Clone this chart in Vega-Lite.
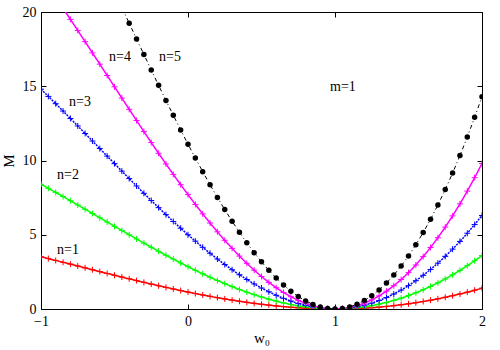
{
"$schema":"https://vega.github.io/schema/vega-lite/v6.json",
"width":441,"height":297,
"autosize":{"type":"none"},
"padding":{"left":41,"top":12,"right":18,"bottom":41},
"background":"white",
"config":{"view":{"stroke":null},"font":"Liberation Serif",
 "axis":{"labelFont":"Liberation Serif","labelFontSize":14,"labelColor":"black","titleFont":"Liberation Serif","titleFontSize":15,"titleFontWeight":"normal","titleColor":"black","domainColor":"black","tickColor":"black","grid":false,"tickSize":-5,"labelPadding":10}},
"data":{"values":[
{"w":-1,"n":1,"M":3.52},{"w":-1,"n":2,"M":8.4},{"w":-1,"n":3,"M":14.8},{"w":-1,"n":4,"M":22.4},{"w":-1,"n":5,"M":31.6},
{"w":-0.95,"n":1,"M":3.396},{"w":-0.95,"n":2,"M":8.128},{"w":-0.95,"n":3,"M":14.316},{"w":-0.95,"n":4,"M":21.693},{"w":-0.95,"n":5,"M":30.648},
{"w":-0.9,"n":1,"M":3.271},{"w":-0.9,"n":2,"M":7.852},{"w":-0.9,"n":3,"M":13.826},{"w":-0.9,"n":4,"M":20.974},{"w":-0.9,"n":5,"M":29.674},
{"w":-0.85,"n":1,"M":3.145},{"w":-0.85,"n":2,"M":7.572},{"w":-0.85,"n":3,"M":13.331},{"w":-0.85,"n":4,"M":20.244},{"w":-0.85,"n":5,"M":28.681},
{"w":-0.8,"n":1,"M":3.02},{"w":-0.8,"n":2,"M":7.29},{"w":-0.8,"n":3,"M":12.83},{"w":-0.8,"n":4,"M":19.505},{"w":-0.8,"n":5,"M":27.67},
{"w":-0.75,"n":1,"M":2.894},{"w":-0.75,"n":2,"M":7.005},{"w":-0.75,"n":3,"M":12.327},{"w":-0.75,"n":4,"M":18.758},{"w":-0.75,"n":5,"M":26.644},
{"w":-0.7,"n":1,"M":2.769},{"w":-0.7,"n":2,"M":6.719},{"w":-0.7,"n":3,"M":11.82},{"w":-0.7,"n":4,"M":18.005},{"w":-0.7,"n":5,"M":25.605},
{"w":-0.65,"n":1,"M":2.644},{"w":-0.65,"n":2,"M":6.432},{"w":-0.65,"n":3,"M":11.312},{"w":-0.65,"n":4,"M":17.247},{"w":-0.65,"n":5,"M":24.557},
{"w":-0.6,"n":1,"M":2.519},{"w":-0.6,"n":2,"M":6.144},{"w":-0.6,"n":3,"M":10.803},{"w":-0.6,"n":4,"M":16.486},{"w":-0.6,"n":5,"M":23.501},
{"w":-0.55,"n":1,"M":2.395},{"w":-0.55,"n":2,"M":5.856},{"w":-0.55,"n":3,"M":10.295},{"w":-0.55,"n":4,"M":15.724},{"w":-0.55,"n":5,"M":22.439},
{"w":-0.5,"n":1,"M":2.273},{"w":-0.5,"n":2,"M":5.569},{"w":-0.5,"n":3,"M":9.788},{"w":-0.5,"n":4,"M":14.963},{"w":-0.5,"n":5,"M":21.375},
{"w":-0.45,"n":1,"M":2.151},{"w":-0.45,"n":2,"M":5.283},{"w":-0.45,"n":3,"M":9.283},{"w":-0.45,"n":4,"M":14.202},{"w":-0.45,"n":5,"M":20.31},
{"w":-0.4,"n":1,"M":2.031},{"w":-0.4,"n":2,"M":4.998},{"w":-0.4,"n":3,"M":8.781},{"w":-0.4,"n":4,"M":13.446},{"w":-0.4,"n":5,"M":19.247},
{"w":-0.35,"n":1,"M":1.912},{"w":-0.35,"n":2,"M":4.716},{"w":-0.35,"n":3,"M":8.283},{"w":-0.35,"n":4,"M":12.694},{"w":-0.35,"n":5,"M":18.189},
{"w":-0.3,"n":1,"M":1.795},{"w":-0.3,"n":2,"M":4.436},{"w":-0.3,"n":3,"M":7.791},{"w":-0.3,"n":4,"M":11.948},{"w":-0.3,"n":5,"M":17.137},
{"w":-0.25,"n":1,"M":1.68},{"w":-0.25,"n":2,"M":4.16},{"w":-0.25,"n":3,"M":7.305},{"w":-0.25,"n":4,"M":11.211},{"w":-0.25,"n":5,"M":16.094},
{"w":-0.2,"n":1,"M":1.567},{"w":-0.2,"n":2,"M":3.888},{"w":-0.2,"n":3,"M":6.826},{"w":-0.2,"n":4,"M":10.483},{"w":-0.2,"n":5,"M":15.062},
{"w":-0.15,"n":1,"M":1.456},{"w":-0.15,"n":2,"M":3.62},{"w":-0.15,"n":3,"M":6.355},{"w":-0.15,"n":4,"M":9.767},{"w":-0.15,"n":5,"M":14.045},
{"w":-0.1,"n":1,"M":1.348},{"w":-0.1,"n":2,"M":3.358},{"w":-0.1,"n":3,"M":5.893},{"w":-0.1,"n":4,"M":9.063},{"w":-0.1,"n":5,"M":13.044},
{"w":-0.05,"n":1,"M":1.243},{"w":-0.05,"n":2,"M":3.101},{"w":-0.05,"n":3,"M":5.441},{"w":-0.05,"n":4,"M":8.373},{"w":-0.05,"n":5,"M":12.061},
{"w":0,"n":1,"M":1.14},{"w":0,"n":2,"M":2.85},{"w":0,"n":3,"M":5.0},{"w":0,"n":4,"M":7.7},{"w":0,"n":5,"M":11.1},
{"w":0.05,"n":1,"M":1.041},{"w":0.05,"n":2,"M":2.606},{"w":0.05,"n":3,"M":4.571},{"w":0.05,"n":4,"M":7.044},{"w":0.05,"n":5,"M":10.162},
{"w":0.1,"n":1,"M":0.944},{"w":0.1,"n":2,"M":2.369},{"w":0.1,"n":3,"M":4.155},{"w":0.1,"n":4,"M":6.407},{"w":0.1,"n":5,"M":9.25},
{"w":0.15,"n":1,"M":0.852},{"w":0.15,"n":2,"M":2.14},{"w":0.15,"n":3,"M":3.753},{"w":0.15,"n":4,"M":5.791},{"w":0.15,"n":5,"M":8.367},
{"w":0.2,"n":1,"M":0.763},{"w":0.2,"n":2,"M":1.92},{"w":0.2,"n":3,"M":3.366},{"w":0.2,"n":4,"M":5.197},{"w":0.2,"n":5,"M":7.514},
{"w":0.25,"n":1,"M":0.678},{"w":0.25,"n":2,"M":1.709},{"w":0.25,"n":3,"M":2.995},{"w":0.25,"n":4,"M":4.627},{"w":0.25,"n":5,"M":6.694},
{"w":0.3,"n":1,"M":0.597},{"w":0.3,"n":2,"M":1.507},{"w":0.3,"n":3,"M":2.641},{"w":0.3,"n":4,"M":4.082},{"w":0.3,"n":5,"M":5.909},
{"w":0.35,"n":1,"M":0.52},{"w":0.35,"n":2,"M":1.315},{"w":0.35,"n":3,"M":2.305},{"w":0.35,"n":4,"M":3.564},{"w":0.35,"n":5,"M":5.163},
{"w":0.4,"n":1,"M":0.448},{"w":0.4,"n":2,"M":1.134},{"w":0.4,"n":3,"M":1.987},{"w":0.4,"n":4,"M":3.074},{"w":0.4,"n":5,"M":4.457},
{"w":0.45,"n":1,"M":0.38},{"w":0.45,"n":2,"M":0.964},{"w":0.45,"n":3,"M":1.689},{"w":0.45,"n":4,"M":2.615},{"w":0.45,"n":5,"M":3.793},
{"w":0.5,"n":1,"M":0.318},{"w":0.5,"n":2,"M":0.806},{"w":0.5,"n":3,"M":1.413},{"w":0.5,"n":4,"M":2.188},{"w":0.5,"n":5,"M":3.175},
{"w":0.55,"n":1,"M":0.26},{"w":0.55,"n":2,"M":0.661},{"w":0.55,"n":3,"M":1.157},{"w":0.55,"n":4,"M":1.793},{"w":0.55,"n":5,"M":2.604},
{"w":0.6,"n":1,"M":0.207},{"w":0.6,"n":2,"M":0.528},{"w":0.6,"n":3,"M":0.925},{"w":0.6,"n":4,"M":1.434},{"w":0.6,"n":5,"M":2.083},
{"w":0.65,"n":1,"M":0.16},{"w":0.65,"n":2,"M":0.409},{"w":0.65,"n":3,"M":0.716},{"w":0.65,"n":4,"M":1.11},{"w":0.65,"n":5,"M":1.615},
{"w":0.7,"n":1,"M":0.119},{"w":0.7,"n":2,"M":0.304},{"w":0.7,"n":3,"M":0.532},{"w":0.7,"n":4,"M":0.825},{"w":0.7,"n":5,"M":1.201},
{"w":0.75,"n":1,"M":0.083},{"w":0.75,"n":2,"M":0.213},{"w":0.75,"n":3,"M":0.373},{"w":0.75,"n":4,"M":0.58},{"w":0.75,"n":5,"M":0.844},
{"w":0.8,"n":1,"M":0.054},{"w":0.8,"n":2,"M":0.138},{"w":0.8,"n":3,"M":0.242},{"w":0.8,"n":4,"M":0.375},{"w":0.8,"n":5,"M":0.546},
{"w":0.85,"n":1,"M":0.031},{"w":0.85,"n":2,"M":0.078},{"w":0.85,"n":3,"M":0.137},{"w":0.85,"n":4,"M":0.213},{"w":0.85,"n":5,"M":0.311},
{"w":0.9,"n":1,"M":0.014},{"w":0.9,"n":2,"M":0.035},{"w":0.9,"n":3,"M":0.062},{"w":0.9,"n":4,"M":0.096},{"w":0.9,"n":5,"M":0.14},
{"w":0.95,"n":1,"M":0.003},{"w":0.95,"n":2,"M":0.009},{"w":0.95,"n":3,"M":0.016},{"w":0.95,"n":4,"M":0.025},{"w":0.95,"n":5,"M":0.036},
{"w":1,"n":1,"M":0},{"w":1,"n":2,"M":0},{"w":1,"n":3,"M":0},{"w":1,"n":4,"M":0},{"w":1,"n":5,"M":0},
{"w":1.05,"n":1,"M":0.004},{"w":1.05,"n":2,"M":0.009},{"w":1.05,"n":3,"M":0.016},{"w":1.05,"n":4,"M":0.025},{"w":1.05,"n":5,"M":0.036},
{"w":1.1,"n":1,"M":0.014},{"w":1.1,"n":2,"M":0.036},{"w":1.1,"n":3,"M":0.063},{"w":1.1,"n":4,"M":0.098},{"w":1.1,"n":5,"M":0.143},
{"w":1.15,"n":1,"M":0.032},{"w":1.15,"n":2,"M":0.081},{"w":1.15,"n":3,"M":0.142},{"w":1.15,"n":4,"M":0.221},{"w":1.15,"n":5,"M":0.322},
{"w":1.2,"n":1,"M":0.056},{"w":1.2,"n":2,"M":0.144},{"w":1.2,"n":3,"M":0.252},{"w":1.2,"n":4,"M":0.392},{"w":1.2,"n":5,"M":0.572},
{"w":1.25,"n":1,"M":0.088},{"w":1.25,"n":2,"M":0.225},{"w":1.25,"n":3,"M":0.394},{"w":1.25,"n":4,"M":0.613},{"w":1.25,"n":5,"M":0.894},
{"w":1.3,"n":1,"M":0.126},{"w":1.3,"n":2,"M":0.324},{"w":1.3,"n":3,"M":0.567},{"w":1.3,"n":4,"M":0.882},{"w":1.3,"n":5,"M":1.287},
{"w":1.35,"n":1,"M":0.172},{"w":1.35,"n":2,"M":0.441},{"w":1.35,"n":3,"M":0.772},{"w":1.35,"n":4,"M":1.201},{"w":1.35,"n":5,"M":1.752},
{"w":1.4,"n":1,"M":0.224},{"w":1.4,"n":2,"M":0.576},{"w":1.4,"n":3,"M":1.008},{"w":1.4,"n":4,"M":1.568},{"w":1.4,"n":5,"M":2.288},
{"w":1.45,"n":1,"M":0.284},{"w":1.45,"n":2,"M":0.729},{"w":1.45,"n":3,"M":1.276},{"w":1.45,"n":4,"M":1.985},{"w":1.45,"n":5,"M":2.896},
{"w":1.5,"n":1,"M":0.35},{"w":1.5,"n":2,"M":0.9},{"w":1.5,"n":3,"M":1.575},{"w":1.5,"n":4,"M":2.45},{"w":1.5,"n":5,"M":3.575},
{"w":1.55,"n":1,"M":0.424},{"w":1.55,"n":2,"M":1.089},{"w":1.55,"n":3,"M":1.906},{"w":1.55,"n":4,"M":2.965},{"w":1.55,"n":5,"M":4.326},
{"w":1.6,"n":1,"M":0.504},{"w":1.6,"n":2,"M":1.296},{"w":1.6,"n":3,"M":2.268},{"w":1.6,"n":4,"M":3.528},{"w":1.6,"n":5,"M":5.148},
{"w":1.65,"n":1,"M":0.592},{"w":1.65,"n":2,"M":1.521},{"w":1.65,"n":3,"M":2.662},{"w":1.65,"n":4,"M":4.141},{"w":1.65,"n":5,"M":6.042},
{"w":1.7,"n":1,"M":0.686},{"w":1.7,"n":2,"M":1.764},{"w":1.7,"n":3,"M":3.087},{"w":1.7,"n":4,"M":4.802},{"w":1.7,"n":5,"M":7.007},
{"w":1.75,"n":1,"M":0.788},{"w":1.75,"n":2,"M":2.025},{"w":1.75,"n":3,"M":3.544},{"w":1.75,"n":4,"M":5.513},{"w":1.75,"n":5,"M":8.044},
{"w":1.8,"n":1,"M":0.896},{"w":1.8,"n":2,"M":2.304},{"w":1.8,"n":3,"M":4.032},{"w":1.8,"n":4,"M":6.272},{"w":1.8,"n":5,"M":9.152},
{"w":1.85,"n":1,"M":1.012},{"w":1.85,"n":2,"M":2.601},{"w":1.85,"n":3,"M":4.552},{"w":1.85,"n":4,"M":7.081},{"w":1.85,"n":5,"M":10.332},
{"w":1.9,"n":1,"M":1.134},{"w":1.9,"n":2,"M":2.916},{"w":1.9,"n":3,"M":5.103},{"w":1.9,"n":4,"M":7.938},{"w":1.9,"n":5,"M":11.583},
{"w":1.95,"n":1,"M":1.264},{"w":1.95,"n":2,"M":3.249},{"w":1.95,"n":3,"M":5.686},{"w":1.95,"n":4,"M":8.845},{"w":1.95,"n":5,"M":12.906},
{"w":2,"n":1,"M":1.4},{"w":2,"n":2,"M":3.6},{"w":2,"n":3,"M":6.3},{"w":2,"n":4,"M":9.8},{"w":2,"n":5,"M":14.3}
]},
"layer":[
{"transform":[{"filter":"datum.n < 5"}],
 "mark":{"type":"line","clip":true,"strokeWidth":1.5},
 "encoding":{
  "x":{"field":"w","type":"quantitative","scale":{"domain":[-1,2],"nice":false,"zero":false},"axis":{"orient":"bottom","values":[-1,0,1,2],"title":"w₀","titlePadding":2,"labelFlush":false}},
  "y":{"field":"M","type":"quantitative","scale":{"domain":[0,20],"nice":false},"axis":{"orient":"left","values":[0,5,10,15,20],"title":"M","titlePadding":6,"labelFlush":false}},
  "color":{"field":"n","type":"nominal","scale":{"domain":[1,2,3,4,5],"range":["#ff0000","#00ff00","#0000ff","#ff00ff","#000000"]},"legend":null},
  "strokeDash":{"field":"n","type":"nominal","scale":{"domain":[1,2,3,4],"range":[[1,0],[1,0],[2,1],[1,0]]},"legend":null}}},
{"transform":[{"filter":"datum.n < 5"}],
 "mark":{"type":"point","clip":true,"shape":"M-1,0H1M0,-1V1","filled":false,"strokeWidth":1,"size":36,"opacity":1},
 "encoding":{
  "x":{"field":"w","type":"quantitative","axis":null},
  "y":{"field":"M","type":"quantitative","axis":null},
  "color":{"field":"n","type":"nominal","legend":null}}},
{"transform":[{"filter":"datum.n == 5"}],
 "mark":{"type":"line","clip":true,"color":"black","strokeWidth":1,"strokeDash":[4,3,1,3]},
 "encoding":{
  "x":{"field":"w","type":"quantitative","axis":null},
  "y":{"field":"M","type":"quantitative","axis":null}}},
{"transform":[{"filter":"datum.n == 5"}],
 "mark":{"type":"point","clip":true,"shape":"circle","filled":true,"color":"black","size":30,"opacity":1},
 "encoding":{
  "x":{"field":"w","type":"quantitative","axis":null},
  "y":{"field":"M","type":"quantitative","axis":null}}},
{"data":{"values":[
 {"w":-0.816,"M":4.0,"t":"n=1"},
 {"w":-0.816,"M":9.0,"t":"n=2"},
 {"w":-0.735,"M":13.97,"t":"n=3"},
 {"w":-0.463,"M":16.97,"t":"n=4"},
 {"w":-0.122,"M":16.97,"t":"n=5"},
 {"w":1.054,"M":14.95,"t":"m=1"}]},
 "mark":{"type":"text","font":"Liberation Serif","fontSize":14,"align":"center","baseline":"middle","color":"black"},
 "encoding":{
  "x":{"field":"w","type":"quantitative","axis":{"orient":"top","values":[-1,0,1,2],"labels":false,"title":null}},
  "y":{"field":"M","type":"quantitative","axis":{"orient":"right","values":[0,5,10,15,20],"labels":false,"title":null}},
  "text":{"field":"t"}}}
],
"resolve":{"axis":{"x":"independent","y":"independent"}}
}
